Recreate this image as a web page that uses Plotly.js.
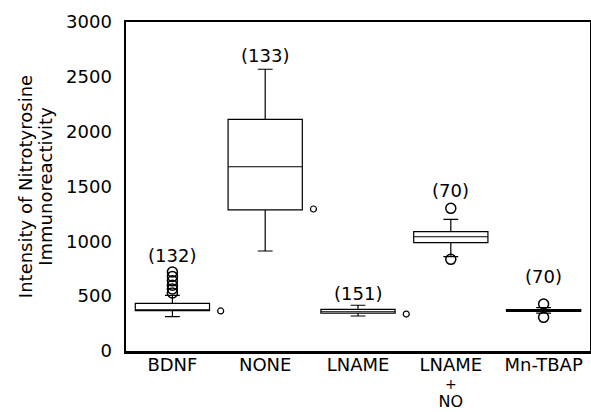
<!DOCTYPE html>
<html>
<head>
<meta charset="utf-8">
<script src="https://cdn.plot.ly/plotly-3.0.1.min.js"></script>
<style>html,body{margin:0;padding:0;background:#fff;}#chart{width:591px;height:412px;}</style>
</head>
<body>
<div id="chart"></div>
<script>
// Categories and tick labels
var categories = ["BDNF", "NONE", "LNAME", "LNAME + NO", "Mn-TBAP"];
var tickLines = [["BDNF"], ["NONE"], ["LNAME"], ["LNAME", "+", "NO"], ["Mn-TBAP"]];
var sampleSizes = ["(132)", "(133)", "(151)", "(70)", "(70)"];
var sampleLabelY = [875, 2699, 520, 1468, 675];

// Box statistics
var lowerFence = [313, 912, 319, 860, 345];
var q1Values   = [367, 1286, 344, 988, 360];
var medians    = [376, 1680, 358, 1042, 368];
var q3Values   = [435, 2112, 380, 1088, 378];
var upperFence = [508, 2569, 417, 1201, 395];

// Outliers drawn as open circles above/below the whiskers
var outlierCat = [0, 0, 0, 0, 0, 0, 3, 3, 4, 4];
var outlierVal = [530, 565, 600, 640, 680, 720, 1301, 836, 429, 307];

// Small circles to the right of some boxes
var sideCat = [0.52, 1.52, 2.52];
var sideVal = [365, 1295, 337];

var font = "DejaVu Sans, Arial, sans-serif";
var xIdx = categories.map(function(c, i){ return i; });
function sized(s, px){ return "<span style='font-size:" + px + "px'>" + s + "</span>"; }
var lineSizes = {"+": 14, "NO": 16};
var tickText = tickLines.map(function(lines){
  return lines.map(function(s){ return sized(s, lineSizes[s] || 18); }).join("<br>");
});

var traces = [
  {
    type: "box",
    x: xIdx,
    q1: q1Values,
    median: medians,
    q3: q3Values,
    lowerfence: lowerFence,
    upperfence: upperFence,
    width: 0.8,
    whiskerwidth: 0.2,
    fillcolor: "#ffffff",
    line: {color: "#000000", width: 1.2},
    boxpoints: false,
    hoverinfo: "skip",
    showlegend: false
  },
  {
    type: "scatter",
    mode: "markers",
    x: outlierCat,
    y: outlierVal,
    marker: {symbol: "circle-open", size: 10, color: "#000000", line: {width: 1.5, color: "#000000"}},
    showlegend: false,
    hoverinfo: "skip"
  },
  {
    type: "scatter",
    mode: "markers",
    x: sideCat,
    y: sideVal,
    marker: {symbol: "circle-open", size: 6, color: "#000000", line: {width: 1.2, color: "#000000"}},
    showlegend: false,
    hoverinfo: "skip"
  }
];

var annotations = sampleSizes.map(function(t, i){
  return {x: i, y: sampleLabelY[i], xref: "x", yref: "y", text: t, showarrow: false,
          font: {family: font, size: 18, color: "#000"}, xanchor: "center", yanchor: "middle"};
});

var layout = {
  width: 591,
  height: 412,
  margin: {l: 126, r: 1, t: 22, b: 61},
  paper_bgcolor: "#ffffff",
  plot_bgcolor: "#ffffff",
  font: {family: font, size: 18, color: "#000"},
  showlegend: false,
  xaxis: {
    range: [-0.5, 4.5],
    tickmode: "array",
    tickvals: xIdx,
    ticktext: tickText,
    showgrid: false,
    zeroline: false,
    showline: true,
    mirror: true,
    linecolor: "#000",
    linewidth: 2.5,
    ticks: "",
    ticklabelstandoff: 0,
    tickfont: {family: font, size: 14.2, color: "#000"}
  },
  yaxis: {
    range: [0, 3000],
    tickvals: [0, 500, 1000, 1500, 2000, 2500, 3000],
    showgrid: false,
    zeroline: false,
    showline: true,
    mirror: true,
    linecolor: "#000",
    linewidth: 2.5,
    ticks: "",
    ticklabelstandoff: 8,
    tickfont: {family: font, size: 18, color: "#000"},
    title: {text: sized("Intensity of Nitrotyrosine", 18) + "<br>" + sized("Immunoreactivity", 18),
            font: {family: font, size: 15.5, color: "#000"}, standoff: 10}
  },
  annotations: annotations
};

Plotly.newPlot("chart", traces, layout, {staticPlot: true, displayModeBar: false});
</script>
</body>
</html>
